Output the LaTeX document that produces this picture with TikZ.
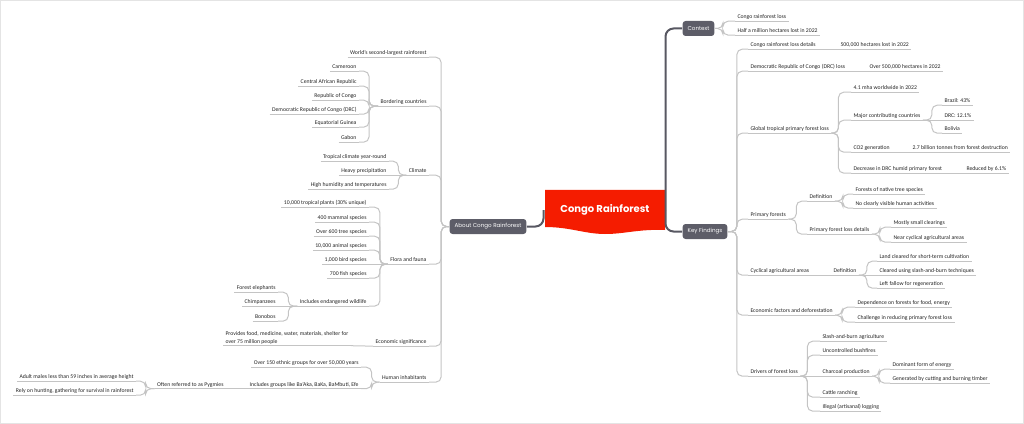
\documentclass[tikz,border=0pt]{standalone}
\usepackage{fontspec}
\setmainfont{Carlito}
\newfontfamily\popfont{Poppins}

\definecolor{rootred}{RGB}{245,28,0}
\definecolor{boxgray}{RGB}{93,93,104}
\definecolor{trunkgray}{RGB}{88,88,98}
\definecolor{linegray}{RGB}{196,196,196}
\definecolor{framegray}{RGB}{228,228,228}
\definecolor{leaftext}{RGB}{35,35,35}

\tikzset{every picture/.style={line width=0.75pt}}
\tikzset{
  conn/.style={draw=linegray, line width=0.75pt, rounded corners=4pt},
  trunk/.style={draw=trunkgray, line width=1.5pt, rounded corners=6pt},
  leaf/.style={font=\fontsize{4.3}{5.4}\selectfont, text=leaftext, inner xsep=1.5pt, inner ysep=0.6pt, text height=3.3pt, text depth=1pt,
    append after command={(\tikzlastnode.south west) edge[conn] (\tikzlastnode.south east)}},
  topic/.style={fill=boxgray, rounded corners=2.2pt, text=white, font=\popfont\fontsize{4.2}{5}\selectfont, minimum height=11.25pt, inner xsep=3.75pt, inner ysep=0pt},
  rootnode/.style={text=white, font=\popfont\bfseries\fontsize{7.5}{9}\selectfont, minimum width=90pt, minimum height=30pt, inner sep=0pt}
}

\begin{document}
\begin{tikzpicture}[x=0.75pt,y=0.75pt,yscale=-1,xscale=1]
\useasboundingbox (0,0) rectangle (1024,424);
%Shape: Frame
\draw [draw=framegray, line width=1.1pt] (0.75,0.75) rectangle (1023.25,423.25);

%Shape: Root banner
\fill [rootred] (545,190) -- (665,190) -- (665,230) .. controls (638,229) and (625,234) .. (605,234) .. controls (585,234) and (570,227) .. (545,227) -- cycle;
\node [rootnode] (root) at (605,210) {Congo Rainforest};

% Topic Nodes
\node [topic] (about) at (488,226.5) {About Congo Rainforest};
\node [topic] (ctx) at (698.5,28.5) {Context};
\node [topic] (kf) at (705,231.5) {Key Findings};

%Straight Lines: root to topics
\draw [trunk] (root.east) |- (ctx.west);
\draw [trunk] (root.east) |- (kf.west);
\draw [trunk] (root.west) ++(-1,0) |- (about.east);

% Context
\node [leaf, anchor=west] (cr1) at (735,17) {Congo rainforest loss};
\node [leaf, anchor=west] (cr2) at (735,31) {Half a million hectares lost in 2022};
\draw [conn] (ctx.east) -- ++(8,0) |- (cr1.south west);
\draw [conn] (ctx.east) -- ++(8,0) |- (cr2.south west);

% Key Findings
\node [leaf, anchor=west] (lossdet) at (748,45) {Congo rainforest loss details};
\node [leaf, anchor=west] (lossval) at (838,45) {500,000 hectares lost in 2022};
\node [leaf, anchor=west] (drcloss) at (748,67) {Democratic Republic of Congo (DRC) loss};
\node [leaf, anchor=west] (drcval) at (867,67) {Over 500,000 hectares in 2022};
\node [leaf, anchor=west] (glob) at (748,129) {Global tropical primary forest loss};
\node [leaf, anchor=west] (mha) at (851,88) {4.1 mha worldwide in 2022};
\node [leaf, anchor=west] (major) at (851,116) {Major contributing countries};
\node [leaf, anchor=west] (brazil) at (942,101) {Brazil: 43\%};
\node [leaf, anchor=west] (drcpct) at (942,116) {DRC: 12.1\%};
\node [leaf, anchor=west] (bolivia) at (942,129) {Bolivia};
\node [leaf, anchor=west] (co2) at (851,148) {CO2 generation};
\node [leaf, anchor=west] (co2val) at (910,148) {2.7 billion tonnes from forest destruction};
\node [leaf, anchor=west] (decr) at (851,169) {Decrease in DRC humid primary forest};
\node [leaf, anchor=west] (decrval) at (964,169) {Reduced by 6.1\%};
\node [leaf, anchor=west] (prim) at (748,215) {Primary forests};
\node [leaf, anchor=west] (def1) at (807,197) {Definition};
\node [leaf, anchor=west] (def1a) at (853,190) {Forests of native tree species};
\node [leaf, anchor=west] (def1b) at (853,204) {No clearly visible human activities};
\node [leaf, anchor=west] (pld) at (807,230) {Primary forest loss details};
\node [leaf, anchor=west] (pld1) at (891,223) {Mostly small clearings};
\node [leaf, anchor=west] (pld2) at (891,238) {Near cyclical agricultural areas};
\node [leaf, anchor=west] (cyc) at (748,271) {Cyclical agricultural areas};
\node [leaf, anchor=west] (def2) at (831,271) {Definition};
\node [leaf, anchor=west] (def2a) at (877,257) {Land cleared for short-term cultivation};
\node [leaf, anchor=west] (def2b) at (877,271) {Cleared using slash-and-burn techniques};
\node [leaf, anchor=west] (def2c) at (877,284) {Left fallow for regeneration};
\node [leaf, anchor=west] (econ) at (748,311) {Economic factors and deforestation};
\node [leaf, anchor=west] (econ1) at (855,303) {Dependence on forests for food, energy};
\node [leaf, anchor=west] (econ2) at (855,318) {Challenge in reducing primary forest loss};
\node [leaf, anchor=west] (drv) at (748,372) {Drivers of forest loss};
\node [leaf, anchor=west] (drv1) at (820,337) {Slash-and-burn agriculture};
\node [leaf, anchor=west] (drv2) at (820,351) {Uncontrolled bushfires};
\node [leaf, anchor=west] (charc) at (820,372) {Charcoal production};
\node [leaf, anchor=west] (charc1) at (890,365) {Dominant form of energy};
\node [leaf, anchor=west] (charc2) at (890,379) {Generated by cutting and burning timber};
\node [leaf, anchor=west] (drv3) at (820,393) {Cattle ranching};
\node [leaf, anchor=west] (drv4) at (820,407) {Illegal (artisanal) logging};

\draw [conn] (kf.east) -- ++(9,0) |- (lossdet.south west);
\draw [conn] (kf.east) -- ++(9,0) |- (drcloss.south west);
\draw [conn] (kf.east) -- ++(9,0) |- (glob.south west);
\draw [conn] (kf.east) -- ++(9,0) |- (prim.south west);
\draw [conn] (kf.east) -- ++(9,0) |- (cyc.south west);
\draw [conn] (kf.east) -- ++(9,0) |- (econ.south west);
\draw [conn] (kf.east) -- ++(9,0) |- (drv.south west);
\draw [conn] (lossdet.south east) -- (lossval.south west);
\draw [conn] (drcloss.south east) -- (drcval.south west);
\draw [conn] (glob.south east) -- ++(7,0) |- (mha.south west);
\draw [conn] (glob.south east) -- ++(7,0) |- (major.south west);
\draw [conn] (glob.south east) -- ++(7,0) |- (co2.south west);
\draw [conn] (glob.south east) -- ++(7,0) |- (decr.south west);
\draw [conn] (major.south east) -- ++(9,0) |- (brazil.south west);
\draw [conn] (major.south east) -- (drcpct.south west);
\draw [conn] (major.south east) -- ++(9,0) |- (bolivia.south west);
\draw [conn] (co2.south east) -- (co2val.south west);
\draw [conn] (decr.south east) -- (decrval.south west);
\draw [conn] (prim.south east) -- ++(8,0) |- (def1.south west);
\draw [conn] (prim.south east) -- ++(8,0) |- (pld.south west);
\draw [conn] (def1.south east) -- ++(8,0) |- (def1a.south west);
\draw [conn] (def1.south east) -- ++(8,0) |- (def1b.south west);
\draw [conn] (pld.south east) -- ++(8,0) |- (pld1.south west);
\draw [conn] (pld.south east) -- ++(8,0) |- (pld2.south west);
\draw [conn] (cyc.south east) -- (def2.south west);
\draw [conn] (def2.south east) -- ++(8,0) |- (def2a.south west);
\draw [conn] (def2.south east) -- (def2b.south west);
\draw [conn] (def2.south east) -- ++(8,0) |- (def2c.south west);
\draw [conn] (econ.south east) -- ++(7,0) |- (econ1.south west);
\draw [conn] (econ.south east) -- ++(7,0) |- (econ2.south west);
\draw [conn] (drv.south east) -- ++(7,0) |- (drv1.south west);
\draw [conn] (drv.south east) -- ++(7,0) |- (drv2.south west);
\draw [conn] (drv.south east) -- (charc.south west);
\draw [conn] (drv.south east) -- ++(7,0) |- (drv3.south west);
\draw [conn] (drv.south east) -- ++(7,0) |- (drv4.south west);
\draw [conn] (charc.south east) -- ++(7,0) |- (charc1.south west);
\draw [conn] (charc.south east) -- ++(7,0) |- (charc2.south west);

% About Congo Rainforest
\node [leaf, anchor=east] (world) at (429,53) {World's second-largest rainforest};
\node [leaf, anchor=east] (border) at (429,102) {Bordering countries};
\node [leaf, anchor=east] (cam) at (359,67) {Cameroon};
\node [leaf, anchor=east] (car) at (359,82) {Central African Republic};
\node [leaf, anchor=east] (roc) at (359,96) {Republic of Congo};
\node [leaf, anchor=east] (drcb) at (359,110) {Democratic Republic of Congo (DRC)};
\node [leaf, anchor=east] (eqg) at (359,123) {Equatorial Guinea};
\node [leaf, anchor=east] (gab) at (359,138) {Gabon};
\node [leaf, anchor=east] (clim) at (429,171) {Climate};
\node [leaf, anchor=east] (clim1) at (389,157) {Tropical climate year-round};
\node [leaf, anchor=east] (clim2) at (389,171) {Heavy precipitation};
\node [leaf, anchor=east] (clim3) at (389,185) {High humidity and temperatures};
\node [leaf, anchor=east] (flora) at (429,260) {Flora and fauna};
\node [leaf, anchor=east] (fl1) at (369,203) {10,000 tropical plants (30\% unique)};
\node [leaf, anchor=east] (fl2) at (369,218) {400 mammal species};
\node [leaf, anchor=east] (fl3) at (369,232) {Over 600 tree species};
\node [leaf, anchor=east] (fl4) at (369,246) {10,000 animal species};
\node [leaf, anchor=east] (fl5) at (369,260) {1,000 bird species};
\node [leaf, anchor=east] (fl6) at (369,274) {700 fish species};
\node [leaf, anchor=east] (endw) at (369,302) {Includes endangered wildlife};
\node [leaf, anchor=east] (elep) at (278,288) {Forest elephants};
\node [leaf, anchor=east] (chimp) at (278,302) {Chimpanzees};
\node [leaf, anchor=east] (bono) at (278,317) {Bonobos};
\node [leaf, anchor=east] (esig) at (429,342) {Economic significance};
\node [leaf, anchor=south west, align=left] (esig1) at (223,345.7) {Provides food, medicine, water, materials, shelter for\\over 75 million people};
\node [leaf, anchor=east] (human) at (429,378) {Human inhabitants};
\node [leaf, anchor=east] (hum1) at (361,363) {Over 150 ethnic groups for over 50,000 years};
\node [leaf, anchor=east] (hum2) at (361,384.5) {Includes groups like Ba'Aka, BaKa, BaMbuti, Efe};
\node [leaf, anchor=east] (pyg) at (226,384.5) {Often referred to as Pygmies};
\node [leaf, anchor=east] (pyg1) at (136,377) {Adult males less than 59 inches in average height};
\node [leaf, anchor=east] (pyg2) at (136,391) {Rely on hunting, gathering for survival in rainforest};

\draw [conn] (about.west) -- ++(-8,0) |- (world.south east);
\draw [conn] (about.west) -- ++(-8,0) |- (border.south east);
\draw [conn] (about.west) -- ++(-8,0) |- (clim.south east);
\draw [conn] (about.west) -- ++(-8,0) |- (flora.south east);
\draw [conn] (about.west) -- ++(-8,0) |- (esig.south east);
\draw [conn] (about.west) -- ++(-8,0) |- (human.south east);
\draw [conn] (border.south west) -- ++(-9,0) |- (cam.south east);
\draw [conn] (border.south west) -- ++(-9,0) |- (car.south east);
\draw [conn] (border.south west) -- ++(-9,0) |- (roc.south east);
\draw [conn] (border.south west) -- ++(-9,0) |- (drcb.south east);
\draw [conn] (border.south west) -- ++(-9,0) |- (eqg.south east);
\draw [conn] (border.south west) -- ++(-9,0) |- (gab.south east);
\draw [conn] (clim.south west) -- ++(-8,0) |- (clim1.south east);
\draw [conn] (clim.south west) -- (clim2.south east);
\draw [conn] (clim.south west) -- ++(-8,0) |- (clim3.south east);
\draw [conn] (flora.south west) -- ++(-8,0) |- (fl1.south east);
\draw [conn] (flora.south west) -- ++(-8,0) |- (fl2.south east);
\draw [conn] (flora.south west) -- ++(-8,0) |- (fl3.south east);
\draw [conn] (flora.south west) -- ++(-8,0) |- (fl4.south east);
\draw [conn] (flora.south west) -- (fl5.south east);
\draw [conn] (flora.south west) -- ++(-8,0) |- (fl6.south east);
\draw [conn] (flora.south west) -- ++(-8,0) |- (endw.south east);
\draw [conn] (endw.south west) -- ++(-9,0) |- (elep.south east);
\draw [conn] (endw.south west) -- (chimp.south east);
\draw [conn] (endw.south west) -- ++(-9,0) |- (bono.south east);
\draw [conn] (esig.south west) -- (esig1.south east);
\draw [conn] (human.south west) -- ++(-8,0) |- (hum1.south east);
\draw [conn] (human.south west) -- ++(-8,0) |- (hum2.south east);
\draw [conn] (hum2.south west) -- (pyg.south east);
\draw [conn] (pyg.south west) -- ++(-9,0) |- (pyg1.south east);
\draw [conn] (pyg.south west) -- ++(-9,0) |- (pyg2.south east);

\end{tikzpicture}
\end{document}
